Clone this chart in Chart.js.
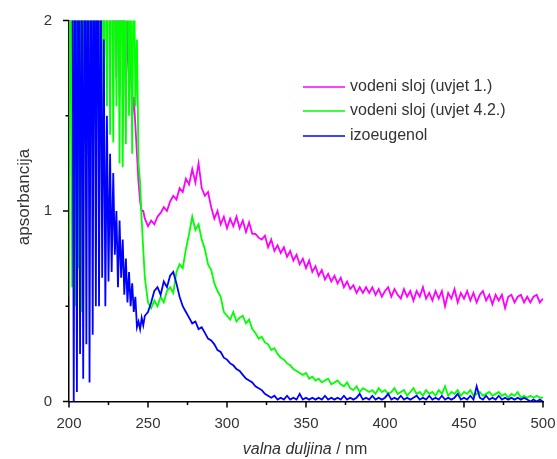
<!DOCTYPE html>
<html>
<head>
<meta charset="utf-8">
<script src="https://cdn.jsdelivr.net/npm/chart.js@4.4.0/dist/chart.umd.min.js"></script>
<style>
  html, body { margin: 0; padding: 0; background: #fff; }
  #wrap { width: 557px; height: 459px; }
</style>
</head>
<body>
<div id="wrap"><canvas id="spektar" width="557" height="459"></canvas></div>
<script>
// valna duljina (nm): 1 nm korak do 248, zatim 2 nm
const valnaDuljina = [
  200, 201, 202, 203, 204, 205, 206, 207, 208, 209,
  210, 211, 212, 213, 214, 215, 216, 217, 218, 219,
  220, 221, 222, 223, 224, 225, 226, 227, 228, 229,
  230, 231, 232, 233, 234, 235, 236, 237, 238, 239,
  240, 241, 242, 243, 244, 245, 246, 247, 248,
  250, 252, 254, 256, 258, 260, 262, 264, 266, 268,
  270, 272, 274, 276, 278, 280, 282, 284, 286, 288,
  290, 292, 294, 296, 298, 300, 302, 304, 306, 308,
  310, 312, 314, 316, 318, 320, 322, 324, 326, 328,
  330, 332, 334, 336, 338, 340, 342, 344, 346, 348,
  350, 352, 354, 356, 358, 360, 362, 364, 366, 368,
  370, 372, 374, 376, 378, 380, 382, 384, 386, 388,
  390, 392, 394, 396, 398, 400, 402, 404, 406, 408,
  410, 412, 414, 416, 418, 420, 422, 424, 426, 428,
  430, 432, 434, 436, 438, 440, 442, 444, 446, 448,
  450, 452, 454, 456, 458, 460, 462, 464, 466, 468,
  470, 472, 474, 476, 478, 480, 482, 484, 486, 488,
  490, 492, 494, 496, 498, 500
];

// vodeni sloj (uvjet 1.)
const uvjet1 = [
  1.0, 3, 1.4, 3, 1.6, 3, 1.85, 3, 1.5, 3,
  1.7, 3, 1.9, 3, 1.75, 3, 1.8, 3, 1.9, 3,
  1.85, 3, 1.7, 3, 1.75, 3, 1.8, 3, 1.65, 2.8,
  1.7, 2.6, 1.6, 2.5, 1.75, 2.2, 1.55, 2.0, 1.7, 1.8,
  1.5, 1.6, 1.45, 1.3, 1.15, 1.05, 1.0, 1.0, 0.96,
  0.92, 0.95, 0.93, 0.97, 0.99, 1.02, 1.0, 1.05, 1.08, 1.06,
  1.12, 1.1, 1.17, 1.14, 1.22, 1.15, 1.25, 1.12, 1.08, 1.1,
  1.02, 0.96, 1.0, 0.93, 0.97, 0.91, 0.96, 0.92, 0.97, 0.91,
  0.95, 0.89, 0.94, 0.88, 0.88, 0.86, 0.85, 0.87, 0.81, 0.85,
  0.79, 0.82, 0.78, 0.81, 0.76, 0.79, 0.74, 0.77, 0.72, 0.75,
  0.7, 0.74, 0.68, 0.71, 0.66, 0.69, 0.64, 0.67, 0.63, 0.66,
  0.62, 0.65, 0.6, 0.63, 0.59, 0.61, 0.57, 0.6, 0.57, 0.6,
  0.57, 0.6, 0.56, 0.59, 0.55, 0.58, 0.6, 0.55, 0.59, 0.56,
  0.54, 0.59, 0.55, 0.58, 0.53, 0.58, 0.55, 0.6, 0.54, 0.57,
  0.53, 0.58, 0.54, 0.58, 0.5, 0.57, 0.54, 0.59, 0.52, 0.57,
  0.54, 0.58, 0.53, 0.57, 0.52, 0.56, 0.58, 0.53, 0.56, 0.51,
  0.56, 0.53, 0.56, 0.49, 0.55, 0.56, 0.52, 0.55, 0.56, 0.52,
  0.55, 0.52, 0.55, 0.56, 0.52, 0.54
];

// vodeni sloj (uvjet 4.2.)
const uvjet42 = [
  0.55, 3, 0.6, 3, 0.5, 3, 0.7, 3, 0.47, 3,
  1.35, 3, 1.3, 3, 1.6, 3, 1.45, 3, 1.7, 3,
  1.75, 3, 1.25, 3, 1.55, 3, 1.4, 3, 1.36, 3,
  1.55, 2.6, 1.25, 3, 1.23, 2.4, 1.35, 3, 1.5, 2.2,
  1.3, 2.5, 1.55, 1.9, 1.25, 1.15, 0.95, 0.8, 0.65,
  0.52, 0.49, 0.53, 0.5, 0.55, 0.52, 0.58, 0.6, 0.57, 0.68,
  0.72, 0.7, 0.8, 0.88, 0.97, 0.9, 0.93, 0.85, 0.8, 0.72,
  0.69, 0.62, 0.58, 0.55, 0.47, 0.45, 0.43, 0.47, 0.42, 0.44,
  0.45, 0.41, 0.43, 0.38, 0.36, 0.33, 0.34, 0.31, 0.3, 0.27,
  0.28, 0.25, 0.23, 0.22, 0.2, 0.19, 0.17, 0.16, 0.15, 0.14,
  0.15, 0.12, 0.13, 0.11, 0.12, 0.1, 0.11, 0.12, 0.09, 0.1,
  0.11, 0.09, 0.08, 0.1, 0.07, 0.06, 0.08, 0.05, 0.07, 0.06,
  0.05, 0.06, 0.04, 0.07, 0.05, 0.06, 0.04, 0.05, 0.07, 0.04,
  0.05, 0.06, 0.03, 0.05, 0.07, 0.04, 0.05, 0.03, 0.06, 0.04,
  0.05, 0.03, 0.06, 0.04, 0.08, 0.03, 0.05, 0.04, 0.06, 0.03,
  0.05, 0.04, 0.06, 0.03, 0.04, 0.05, 0.03, 0.04, 0.05, 0.03,
  0.04, 0.05, 0.03, 0.04, 0.02, 0.04, 0.03, 0.05, 0.02, 0.03,
  0.02, 0.03, 0.02, 0.03, 0.02, 0.02
];

// izoeugenol
const izoeugenol = [
  null, null, 3, 0, 3, 0.05, 3, 0.25, 2.6, 0.12,
  3, 0.3, 3, 0.1, 3, 0.35, 3, 0.5, 3, 0.5,
  2.4, 0.65, 1.9, 0.5, 1.5, 0.63, 1.3, 0.68, 1.2, 0.77,
  1.0, 0.6, 0.95, 0.65, 0.85, 0.56, 0.75, 0.52, 0.68, 0.5,
  0.62, 0.47, 0.55, 0.39, 0.42, 0.38, 0.44, 0.4, 0.45,
  0.47, 0.52, 0.58, 0.6, 0.56, 0.63, 0.6, 0.66, 0.68, 0.62,
  0.55, 0.5, 0.47, 0.44, 0.41, 0.42, 0.38, 0.39, 0.36, 0.33,
  0.32, 0.3, 0.27, 0.26, 0.23, 0.22, 0.2, 0.19, 0.17, 0.16,
  0.14, 0.12, 0.11, 0.1, 0.08, 0.07, 0.06, 0.04, 0.03, 0.02,
  0.03, 0.01, 0.02, 0.01, 0.03, 0.01, 0.02, 0.01, 0.04, 0.01,
  0.02, 0.01, 0.02, 0.01, 0.02, 0.01, 0.03, 0.01, 0.02, 0.01,
  0.02, 0.01, 0.03, 0.01, 0.02, 0.01, 0.02, 0.04, 0.01, 0.02,
  0.01, 0.03, 0.01, 0.02, 0.01, 0.02, 0.04, 0.01, 0.02, 0.01,
  0.03, 0.01, 0.02, 0.01, 0.02, 0.03, 0.01, 0.02, 0.01, 0.03,
  0.01, 0.02, 0.01, 0.03, 0.01, 0.02, 0.01, 0.02, 0.04, 0.01,
  0.02, 0.01, 0.03, 0.01, 0.08, 0.02, 0.01, 0.03, 0.01, 0.02,
  0.01, 0.03, 0.01, 0.02, 0.01, 0.02, 0.01, 0.02, 0.01, 0.02,
  0.01, 0, 0.01, 0, 0.01, 0
];

const nazivi = ['vodeni sloj (uvjet 1.)', 'vodeni sloj (uvjet 4.2.)', 'izoeugenol'];
const boje = ['#ff00ff', '#00ff00', '#0000ff'];

// oznake na osima
const xGlavne = [200, 250, 300, 350, 400, 450, 500];
const xSporedne = [225, 275, 325, 375, 425, 475];
const yGlavne = [0, 1, 2];
const ySporedne = [0.5, 1.5];

const FONT = '"Liberation Sans", Arial, sans-serif';
const TEXT = '#333333';

function tocke(serija) {
    return valnaDuljina.map((x, i) => ({ x: x, y: serija[i] }));
}

// crtice na osima, legenda i naslovi osi
const ukras = {
    id: 'ukras',
    afterDraw(chart) {
        const { ctx, chartArea, scales } = chart;
        ctx.save();
        ctx.strokeStyle = '#000';
        ctx.lineWidth = 1.5;
        ctx.beginPath();
        xGlavne.concat(xSporedne).forEach(v => {
            const px = scales.x.getPixelForValue(v);
            const len = xGlavne.includes(v) ? 6 : 3.5;
            ctx.moveTo(px, chartArea.bottom);
            ctx.lineTo(px, chartArea.bottom + len);
        });
        yGlavne.concat(ySporedne).forEach(v => {
            const py = scales.y.getPixelForValue(v);
            const len = yGlavne.includes(v) ? 6 : 3.5;
            ctx.moveTo(chartArea.left, py);
            ctx.lineTo(chartArea.left - len, py);
        });
        ctx.stroke();

        // legenda
        ctx.font = '16px ' + FONT;
        ctx.textBaseline = 'middle';
        ctx.textAlign = 'left';
        const legY = [87, 111, 136];
        nazivi.forEach((n, i) => {
            ctx.strokeStyle = boje[i];
            ctx.lineWidth = 1.5;
            ctx.beginPath();
            ctx.moveTo(303, legY[i]);
            ctx.lineTo(345, legY[i]);
            ctx.stroke();
            ctx.fillStyle = TEXT;
            ctx.fillText(n, 350, legY[i]);
        });

        // naslov osi x: "valna duljina" kurzivom, " / nm" uspravno
        const dio1 = 'valna duljina';
        const dio2 = ' / nm';
        ctx.font = 'italic 16px ' + FONT;
        const w1 = ctx.measureText(dio1).width;
        ctx.font = '16px ' + FONT;
        const w2 = ctx.measureText(dio2).width;
        let x0 = 305 - (w1 + w2) / 2;
        ctx.font = 'italic 16px ' + FONT;
        ctx.fillText(dio1, x0, 450);
        ctx.font = '16px ' + FONT;
        ctx.fillText(dio2, x0 + w1, 450);

        // naslov osi y
        ctx.translate(24, 197);
        ctx.rotate(-Math.PI / 2);
        ctx.textAlign = 'center';
        ctx.font = '17px ' + FONT;
        ctx.fillText('apsorbancija', 0, 0);
        ctx.restore();
    }
};

new Chart(document.getElementById('spektar'), {
    type: 'line',
    data: {
        datasets: [
            { label: nazivi[0], data: tocke(uvjet1), borderColor: boje[0], order: 3 },
            { label: nazivi[1], data: tocke(uvjet42), borderColor: boje[1], order: 2 },
            { label: nazivi[2], data: tocke(izoeugenol), borderColor: boje[2], order: 1 }
        ]
    },
    options: {
        responsive: false,
        animation: false,
        devicePixelRatio: 1,
        layout: { padding: { left: 0, right: 14, top: 20.5, bottom: 0 } },
        elements: {
            line: { borderWidth: 1.8, tension: 0, fill: false },
            point: { radius: 0, hoverRadius: 0 }
        },
        plugins: { legend: { display: false }, tooltip: { enabled: false } },
        scales: {
            x: {
                type: 'linear', min: 200, max: 500,
                grid: { display: false },
                border: { display: true, color: '#000', width: 1.5 },
                ticks: { stepSize: 50, padding: 5, color: TEXT, font: { family: FONT, size: 15 }, maxRotation: 0 },
                afterFit(scale) {
                    scale.height = 57.5;
                    scale.paddingLeft = 0;
                    scale.paddingRight = 0;
                }
            },
            y: {
                min: 0, max: 2,
                grid: { display: false },
                border: { display: true, color: '#000', width: 1.5 },
                ticks: { stepSize: 1, padding: 9, color: TEXT, font: { family: FONT, size: 15 } },
                afterFit(scale) {
                    scale.width = 69;
                    scale.paddingTop = 0;
                    scale.paddingBottom = 0;
                }
            }
        }
    },
    plugins: [ukras]
});
</script>
</body>
</html>
